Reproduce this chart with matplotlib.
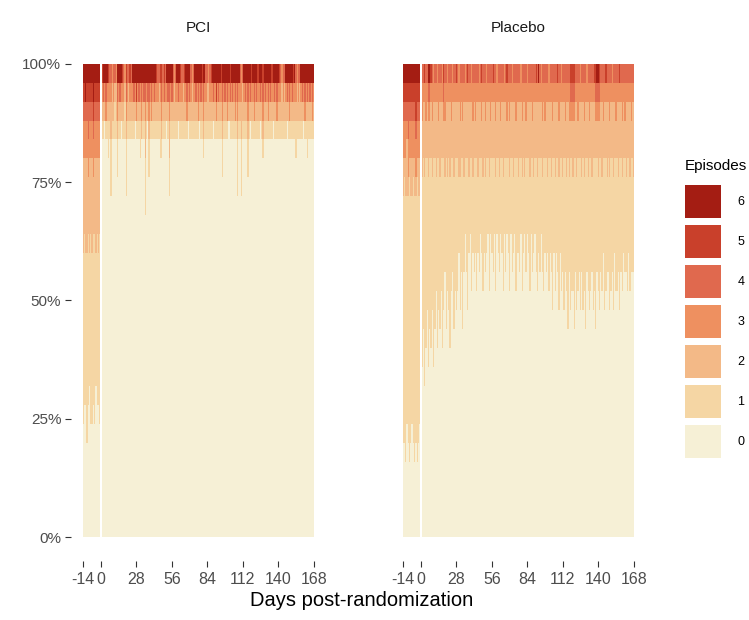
import numpy as np
import matplotlib.pyplot as plt
from matplotlib.patches import Patch

plt.rcParams['font.family'] = ['Liberation Sans', 'DejaVu Sans']

# Daily angina diary: patients per arm, days relative to randomization
N_PATIENTS = 25
days = list(range(-14, 0)) + list(range(1, 169))
episodes = [0, 1, 2, 3, 4, 5, 6]
colors = ['#F6F0D6', '#F5D6A4', '#F3B987', '#EE9060', '#E0694E', '#C9402B', '#A41D13']
x_ticks = [-14, 0, 28, 56, 84, 112, 140, 168]
y_ticks = [0, 0.25, 0.5, 0.75, 1.0]
y_labels = ['0%', '25%', '50%', '75%', '100%']

# Each day: episode counts of the patients with 2+ episodes, and the number with exactly 1
pci_high = [
    '6543322222', '654332222', '6643322222', '6543322222', '654433222', '6543322222', '654332222',
    '6543322222', '665433222', '654332222', '6543322222', '654332222', '6543322222', '654332222',
    '532', '642', '632', '643', '632', '532', '432',
    '4322', '322', '432', '42', '322', '6432', '632',
    '642', '632', '532', '432', '32', '5432', '432',
    '422', '532', '432', '632', '642', '632', '653',
    '632', '642', '632', '6432', '632', '642', '64322',
    '632', '642', '6432', '632', '643', '632', '642',
    '632', '532', '432', '422', '532', '5432', '432',
    '542', '432', '632', '642', '64322', '632', '642',
    '432', '322', '432', '632', '642', '632', '532',
    '432', '422', '532', '632', '643', '632', '642',
    '432', '322', '432', '632', '642', '632', '643',
    '632', '642', '532', '6432', '632', '432', '422',
    '322', '432', '532', '632', '642', '632', '653',
    '632', '642', '632', '532', '6432', '632', '642',
    '632', '643', '632', '542', '632', '642', '632',
    '643', '632', '6432', '632', '432', '3322', '422',
    '632', '642', '632', '6432', '632', '642', '532',
    '632', '643', '632', '642', '532', '632', '642',
    '632', '5432', '632', '642', '632', '643', '632',
    '642', '532', '632', '642', '632', '643', '632',
    '532', '432', '322', '432', '422', '632', '642',
    '632', '643', '632', '642', '532', '632', '432',
    '322', '432', '422', '632', '642', '632', '643',
    '632', '642', '632', '642', '632', '643', '632',
]
pci_ones = [
    9, 9, 8, 10, 9, 7, 10,
    9, 9, 10, 7, 9, 8, 10,
    1, 1, 0, 1, 1, 2, 1,
    3, 1, 1, 2, 1, 2, 1,
    1, 0, 1, 1, 2, 3, 1,
    1, 1, 1, 1, 1, 0, 1,
    1, 1, 2, 0, 1, 1, 3,
    1, 0, 2, 1, 1, 1, 1,
    1, 1, 1, 1, 2, 1, 1,
    1, 1, 0, 1, 2, 1, 1,
    1, 1, 1, 1, 0, 1, 1,
    1, 1, 1, 1, 1, 0, 1,
    1, 1, 1, 1, 1, 1, 1,
    0, 1, 1, 1, 1, 1, 1,
    1, 1, 1, 1, 0, 1, 1,
    1, 1, 1, 1, 2, 1, 1,
    1, 1, 0, 1, 1, 1, 1,
    1, 1, 3, 1, 1, 3, 1,
    1, 1, 1, 2, 1, 0, 1,
    1, 1, 1, 1, 1, 1, 0,
    1, 1, 1, 1, 1, 1, 1,
    1, 1, 0, 1, 1, 1, 1,
    1, 1, 1, 1, 1, 1, 0,
    1, 1, 1, 1, 1, 1, 2,
    1, 1, 1, 1, 1, 0, 1,
    1, 2, 1, 1, 1, 1, 1,
]

plc_high = [
    '6543322', '654332', '6543322', '6543222', '6544332', '654332', '6543322',
    '6543322', '654332', '6543322', '6554332', '654332', '6543322', '6543322',
    '433222', '43222', '532222', '43322', '43222', '643222', '64322',
    '53222', '433222', '33222', '43222', '432222', '33222', '43322',
    '432222', '43222', '33222', '54322', '433222', '43222', '332222',
    '43222', '432222', '43322', '33222', '432222', '43222', '53222',
    '43222', '332222', '433222', '43222', '43322', '432222', '33222',
    '43222', '53222', '432222', '43222', '33222', '433222', '43222',
    '43322', '43222', '432222', '33222', '43222', '53322', '432222',
    '43222', '433222', '33222', '43222', '432222', '43322', '43222',
    '53222', '43222', '433222', '33222', '43222', '432222', '43322',
    '43222', '432222', '33222', '43222', '53322', '43222', '433222',
    '43222', '33222', '432222', '43222', '43322', '43222', '432222',
    '43222', '33222', '433222', '43222', '432222', '43322', '33222',
    '43222', '432222', '43222', '43322', '432222', '43222', '53222',
    '432222', '63222', '43222', '33222', '433222', '43222', '43322',
    '43222', '432222', '33222', '43222', '432222', '43322', '43222',
    '432222', '43222', '53222', '433222', '43222', '33222', '432222',
    '43222', '43322', '432222', '43222', '433222', '54322', '54322',
    '543222', '54322', '43222', '432222', '43322', '43222', '33222',
    '432222', '43222', '433222', '43222', '33222', '432222', '43322',
    '43222', '432222', '43222', '53222', '54322', '64322', '643222',
    '54322', '43222', '432222', '43322', '43222', '53222', '432222',
    '43222', '433222', '43222', '33222', '432222', '43222', '43322',
    '43222', '432222', '53222', '43222', '433222', '43222', '43322',
    '432222', '43222', '43222', '432222', '43322', '43222', '432222',
]
plc_ones = [
    13, 14, 14, 12, 13, 15, 13,
    12, 14, 14, 13, 15, 13, 12,
    10, 9, 11, 10, 8, 10, 9,
    10, 7, 11, 9, 6, 10, 8,
    8, 7, 10, 8, 5, 9, 6,
    8, 9, 7, 6, 8, 7, 8,
    7, 4, 7, 6, 9, 5, 4,
    6, 8, 4, 4, 7, 4, 6,
    5, 7, 4, 6, 4, 5, 6,
    5, 5, 5, 4, 6, 4, 5,
    6, 4, 6, 4, 5, 5, 4,
    5, 6, 4, 6, 4, 5, 6,
    4, 6, 4, 4, 7, 5, 4,
    6, 4, 6, 5, 3, 6, 4,
    5, 6, 4, 6, 4, 4, 6,
    6, 5, 6, 4, 5, 7, 5,
    6, 4, 7, 5, 5, 8, 5,
    6, 5, 6, 7, 5, 7, 5,
    8, 6, 6, 9, 5, 8, 7,
    6, 9, 6, 7, 7, 6, 8,
    5, 8, 6, 9, 6, 6, 8,
    7, 5, 8, 7, 9, 6, 6,
    8, 6, 6, 5, 8, 7, 5,
    6, 7, 7, 6, 7, 5, 7,
    7, 5, 8, 6, 6, 5, 6,
    5, 7, 5, 6, 6, 6, 5,
]


def level_shares(high, ones):
    # share of patients at each episode level for every day
    counts = np.zeros((len(episodes), len(high)))
    for j, (h, k) in enumerate(zip(high, ones)):
        for ch in h:
            counts[int(ch), j] += 1
        counts[1, j] += k
        counts[0, j] = max(N_PATIENTS - counts[1:, j].sum(), 0)
    return counts / counts.sum(axis=0)


panels = [('PCI', level_shares(pci_high, pci_ones)),
          ('Placebo', level_shares(plc_high, plc_ones))]

fig = plt.figure(figsize=(7.49, 6.2), dpi=100)
W, H = 749, 620
panel_w, panel_h = 255, 521
panel_left = [71, 391]
panel_top = 40

for i, (name, shares) in enumerate(panels):
    ax = fig.add_axes([panel_left[i] / W, 1 - (panel_top + panel_h) / H, panel_w / W, panel_h / H])
    bottom = np.zeros(len(days))
    for k in episodes:
        ax.bar(days, shares[k], bottom=bottom, width=1.0, color=colors[k],
               linewidth=0, align='center')
        bottom += shares[k]

    ax.set_xlim(-14.5 - 9.15, 168.5 + 9.15)
    ax.set_ylim(-0.05, 1.05)
    for s in ax.spines.values():
        s.set_visible(False)
    ax.set_xticks(x_ticks)
    ax.set_xticklabels([str(t) for t in x_ticks])
    ax.tick_params(axis='both', length=4, width=0.8, color='#333333',
                   labelcolor='#4D4D4D', labelsize=11, pad=3)
    ax.tick_params(axis='x', labelsize=11.5, pad=4)
    if i == 0:
        ax.set_yticks(y_ticks)
        ax.set_yticklabels(y_labels)
    else:
        ax.set_yticks([])
    ax.text(0.5, 1 + 12 / panel_h, name, transform=ax.transAxes, ha='center',
            va='center', fontsize=11, color='#1A1A1A')

fig.text(362 / W, 1 - 601 / H, 'Days post-randomization', ha='center', va='center',
         fontsize=14.5, color='black')

handles = [Patch(facecolor=colors[k], edgecolor='none') for k in reversed(episodes)]
labels = [str(k) for k in reversed(episodes)]
fig.legend(handles, labels, title='Episodes', loc='upper left',
           bbox_to_anchor=(676 / W, 1 - 150 / H), frameon=False, fontsize=9,
           title_fontsize=11, handlelength=2.9, handleheight=3.68,
           labelspacing=0.56, handletextpad=1.3, alignment='left', borderpad=0.2)
leg = fig.legends[0]
leg._legend_box.sep = 9

fig.savefig('out.png', dpi=100)
